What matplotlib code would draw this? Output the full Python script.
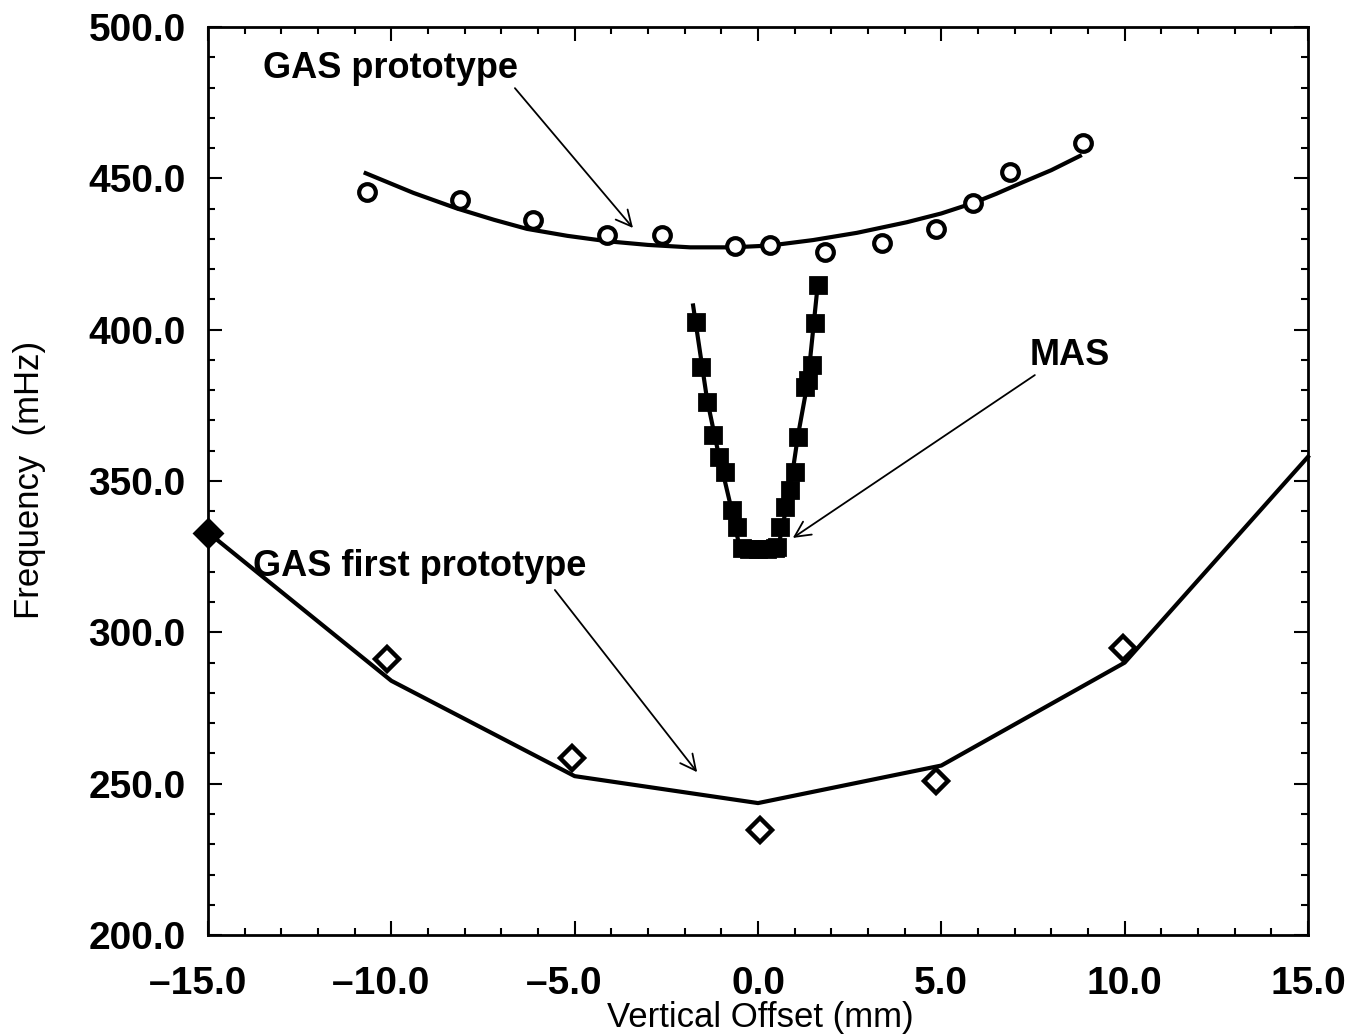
import matplotlib
matplotlib.use("Agg")
import matplotlib.pyplot as plt
from matplotlib.ticker import MultipleLocator

plt.rcParams['font.family'] = ['Liberation Sans', 'DejaVu Sans']

# GAS prototype (circles + fit line)
gas_x = [-10.66, -8.13, -6.14, -4.12, -2.62, -0.63, 0.33, 1.83, 3.38, 4.85, 5.86, 6.87, 8.86]
gas_y = [445.5, 442.8, 436.2, 431.3, 431.3, 427.6, 428.0, 425.6, 428.6, 433.2, 441.8, 452.1, 461.6]
gas_fit_x = [-10.7, -9.4, -8.2, -7.2, -6.3, -5.2, -4.1, -3.0, -1.85, -0.7, 0.33, 1.5, 2.7, 4.06, 5.0, 5.86, 6.5, 7.2, 8.0, 8.78]
gas_fit_y = [451.7, 445.2, 440.0, 436.3, 433.3, 431.0, 429.2, 428.0, 427.2, 427.2, 427.8, 429.6, 432.0, 435.5, 438.4, 441.8, 444.9, 448.6, 452.7, 457.4]

# MAS (squares + line)
mas_x = [-1.69, -1.56, -1.39, -1.23, -1.06, -0.90, -0.71, -0.57, -0.44, -0.25, 0.0, 0.25, 0.45,
         0.52, 0.60, 0.74, 0.87, 1.01, 1.09, 1.28, 1.36, 1.47, 1.55, 1.63]
mas_y = [402.5, 387.6, 376.1, 365.2, 357.9, 353.0, 340.4, 334.8, 327.8, 327.5, 327.5, 327.5, 328.0,
         328.2, 334.8, 341.4, 347.0, 353.0, 364.5, 381.0, 383.4, 388.3, 402.2, 414.7]
mas_line_x = [-1.77, -1.39, -1.06, -0.71, -0.5, 0.55, 0.87, 1.09, 1.36, 1.63]
mas_line_y = [408.0, 377.0, 358.0, 340.0, 328.0, 328.0, 347.0, 365.0, 383.0, 415.0]

# GAS first prototype (diamonds + polyline)
first_x = [-15.0, -10.12, -5.07, 0.05, 4.85, 9.95]
first_y = [332.8, 291.2, 258.5, 234.7, 250.9, 294.8]
first_line_x = [-15.0, -10.0, -5.0, 0.0, 5.0, 10.0, 15.0]
first_line_y = [333.0, 284.0, 252.5, 243.6, 256.0, 290.0, 358.0]

xticks = [-15, -10, -5, 0, 5, 10, 15]
xticklabels = ['\u201315.0  ', '\u201310.0  ', '\u20135.0  ', '0.0', '5.0', '10.0', '15.0']
yticks = [200, 250, 300, 350, 400, 450, 500]
yticklabels = ['200.0', '250.0', '300.0', '350.0', '400.0', '450.0', '500.0']

fig = plt.figure(figsize=(13.56, 10.34), dpi=100)
ax = fig.add_axes([0.1534, 0.0957, 0.8112, 0.8782])

ax.plot(gas_fit_x, gas_fit_y, color='black', lw=3.0, zorder=2)
ax.plot(gas_x, gas_y, linestyle='none', marker='o', ms=12, mfc='white', mec='black', mew=3.0, zorder=3)

ax.plot(mas_line_x, mas_line_y, color='black', lw=3.0, zorder=2)
ax.plot(mas_x, mas_y, linestyle='none', marker='s', ms=12, mfc='black', mec='black', mew=2.0, zorder=3)

ax.plot(first_line_x, first_line_y, color='black', lw=3.0, zorder=2, clip_on=False)
ax.plot(first_x[1:], first_y[1:], linestyle='none', marker='D', ms=12, mfc='white', mec='black', mew=3.2, zorder=3)
ax.plot(first_x[:1], first_y[:1], linestyle='none', marker='D', ms=14, mfc='black', mec='black', mew=2, zorder=4, clip_on=False)

ax.set_xlim(-15, 15)
ax.set_ylim(200, 500)
ax.set_xticks(xticks)
ax.set_xticklabels(xticklabels)
ax.set_yticks(yticks)
ax.set_yticklabels(yticklabels)
ax.xaxis.set_minor_locator(MultipleLocator(1))
ax.yaxis.set_minor_locator(MultipleLocator(10))
ax.tick_params(which='both', direction='in', top=True, right=True, width=1.5)
ax.tick_params(which='major', length=10)
ax.tick_params(which='minor', length=5)
ax.tick_params(axis='x', which='major', labelsize=28, pad=22)
ax.tick_params(axis='y', which='major', labelsize=28, pad=16)
for lab in ax.get_xticklabels() + ax.get_yticklabels():
    lab.set_fontweight('bold')
for s in ax.spines.values():
    s.set_linewidth(2.0)

fs = 26
ax.text(-13.5, 486.4, 'GAS prototype', fontsize=fs, ha='left', va='center', fontweight='bold')
ax.text(7.42, 391.6, 'MAS', fontsize=fs, ha='left', va='center', fontweight='bold')
ax.text(-13.77, 321.6, 'GAS first prototype', fontsize=fs, ha='left', va='center', fontweight='bold')

arrow = dict(arrowstyle='->', lw=1.3, color='black', mutation_scale=28, shrinkA=0, shrinkB=0)
ax.annotate('', xy=(-3.41, 433.6), xytext=(-6.63, 479.8), arrowprops=arrow)
ax.annotate('', xy=(0.95, 331.2), xytext=(7.55, 385.0), arrowprops=arrow)
ax.annotate('', xy=(-1.66, 253.8), xytext=(-5.54, 314.0), arrowprops=arrow)

fig.text(760 / 1356, 1 - 1017 / 1034, 'Vertical Offset (mm)', fontsize=25, ha='center', va='center')
fig.text(30 / 1356, 1 - 480 / 1034, 'Frequency  (mHz)', fontsize=25, ha='center', va='center', rotation=90)

fig.savefig('out.png', dpi=100)
